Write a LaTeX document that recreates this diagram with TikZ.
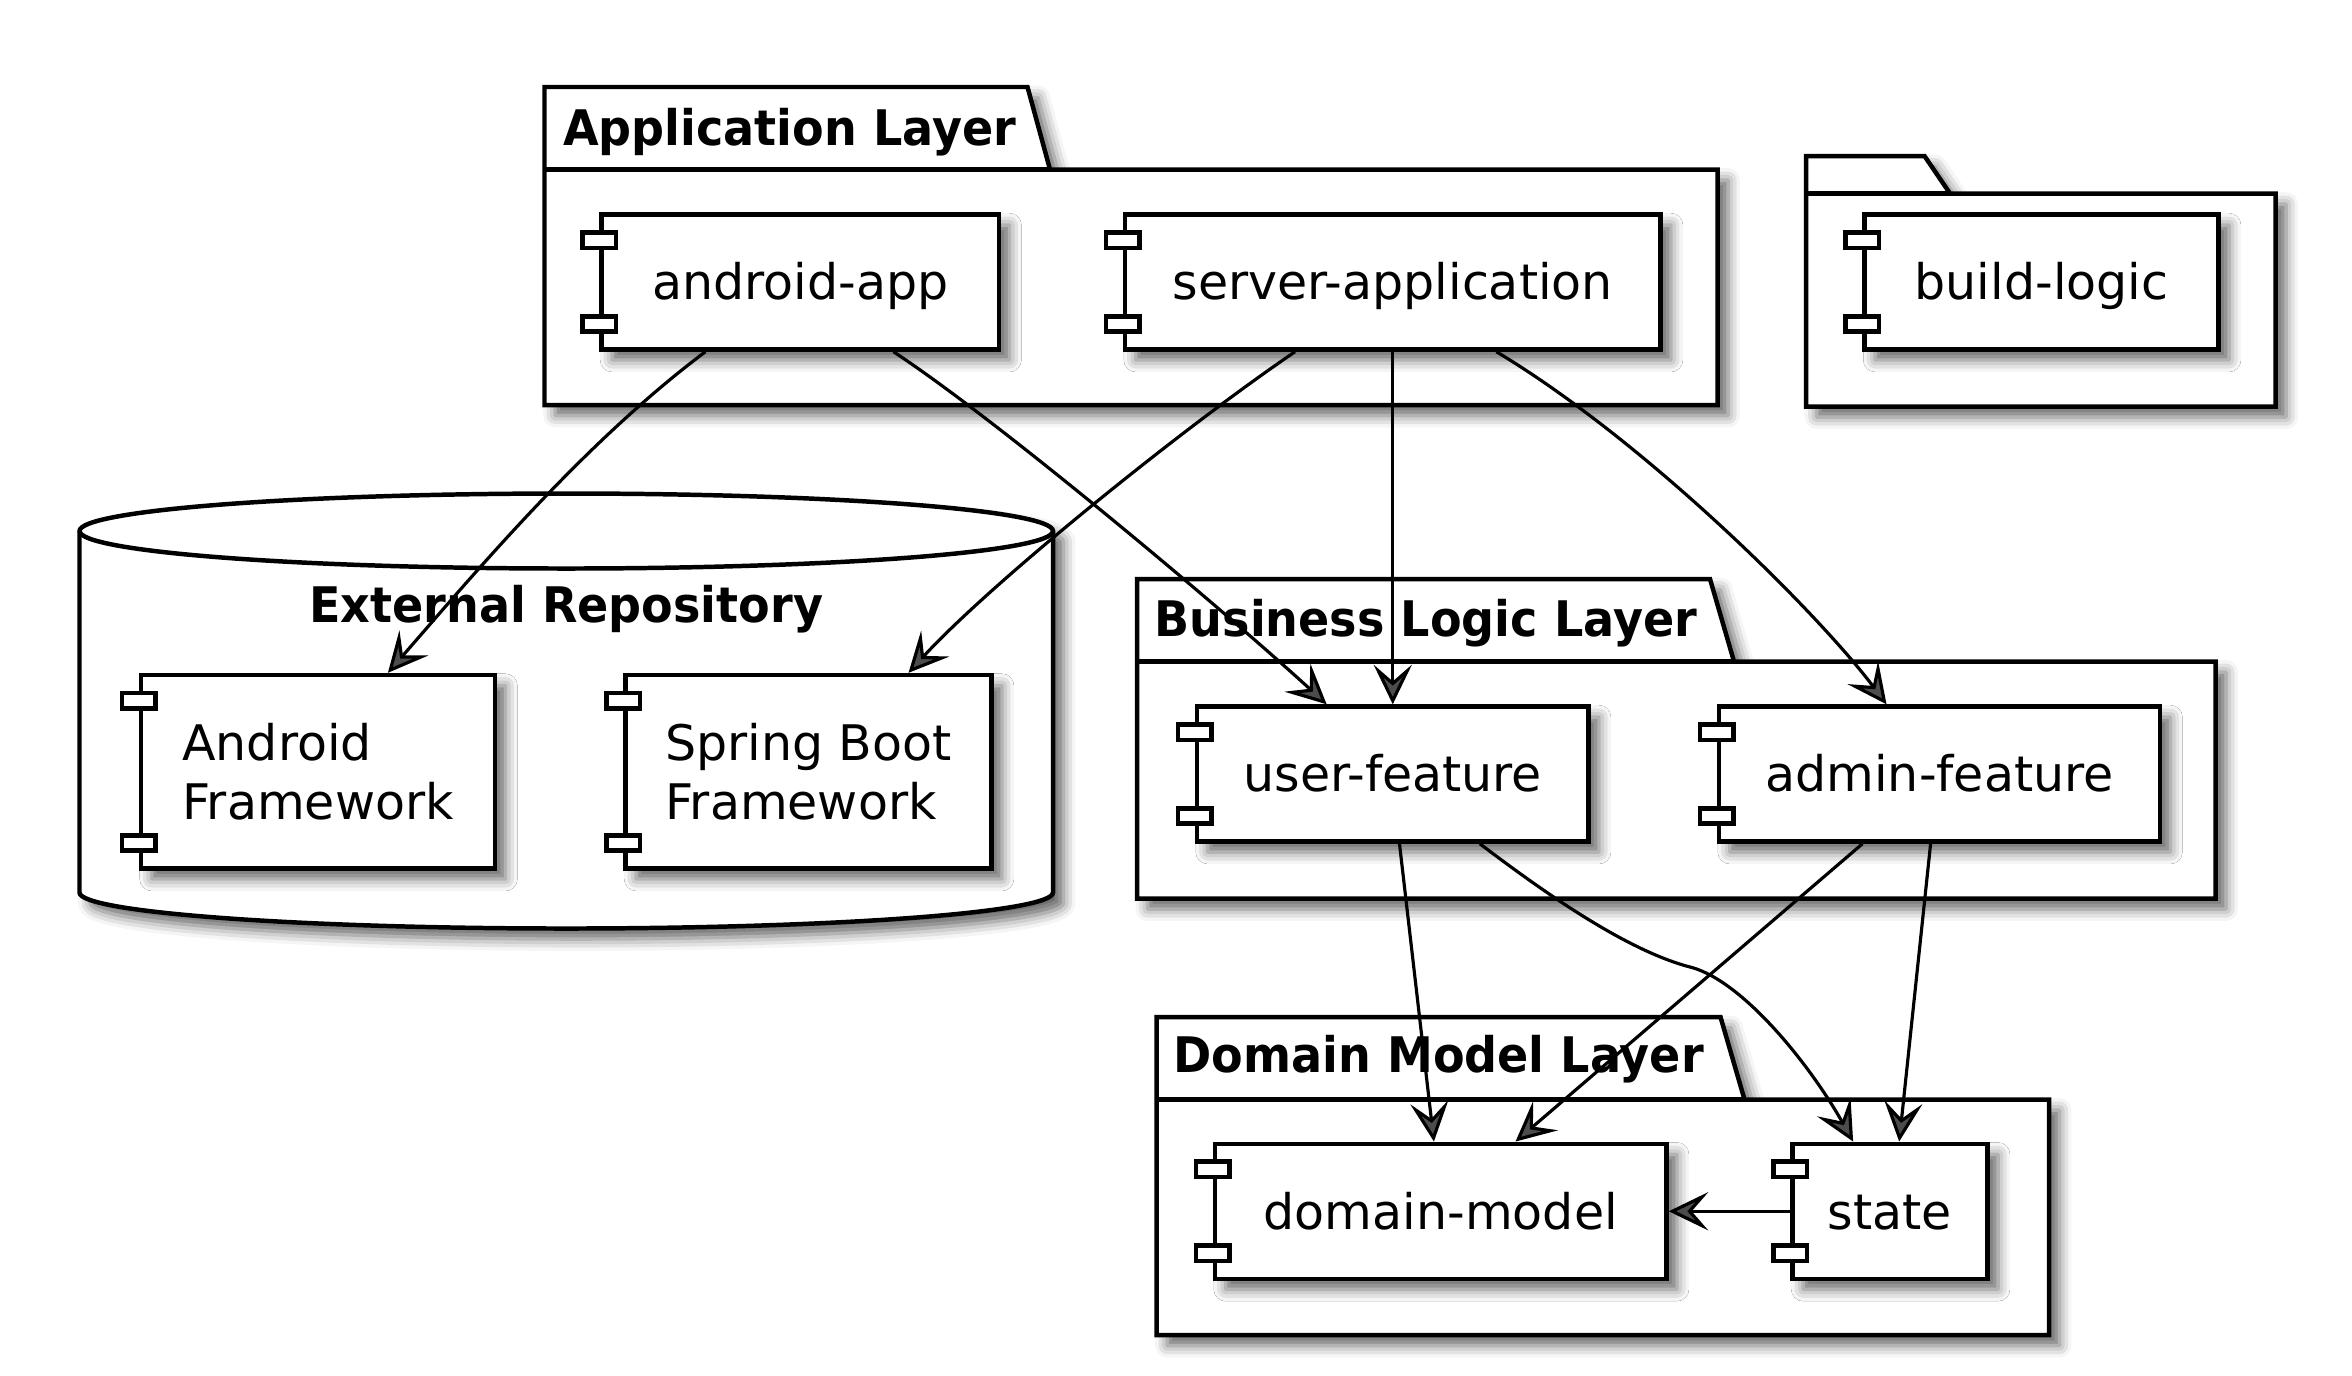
\documentclass[tikz,border=0pt]{standalone}
\usepackage{fontspec}
\setmainfont{DejaVu Sans}
\newfontfamily\titlefont{DejaVu Sans}[FakeStretch=0.94]
\usepackage{tikz}
\usetikzlibrary{arrows.meta, calc, shadows.blur}

% two small port boxes on the left edge of a component
\newcommand{\compports}[1]{%
  \node[compport] (#1-p1) at ($(#1.north west)+(0,18.5)$) {};
  \node[compport] (#1-p2) at ($(#1.south west)+(0,-18.5)$) {};
}

\begin{document}
\begin{tikzpicture}[x=0.02cm, y=-0.02cm,
    font=\fontsize{18.6}{22.7}\selectfont,
    pkgbox/.style={draw, line width=1.7pt, fill=white,
      blur shadow={shadow xshift=4pt, shadow yshift=-4pt, shadow blur radius=4.5pt, shadow opacity=60}},
    comp/.style={pkgbox, rectangle, inner sep=0pt, minimum height=1.8cm},
    oneline/.style={text height=17pt, text depth=3.4pt},
    compport/.style={draw, line width=1.7pt, fill=white, minimum width=0.446cm, minimum height=0.206cm, inner sep=0pt},
    pkgtitle/.style={font=\titlefont\bfseries\fontsize{18.6}{22.7}\selectfont, anchor=base west, inner sep=0pt},
    arr/.style={line width=1.2pt, -{Stealth[length=15pt, width=14.5pt, inset=6.3pt]}}]
    \useasboundingbox (0,0) rectangle (1568,917);

    % Packages
    \draw[pkgbox] (363,58) -- (685,58) -- (700,113) -- (1145,113) -- (1145,270) -- (363,270) -- cycle;
    \draw[line width=1.7pt] (363,113) -- (700,113);
    \node[pkgtitle] (apptitle) at (375,97) {Application Layer};

    \draw[pkgbox] (1204,104) -- (1283,104) -- (1300,129) -- (1517,129) -- (1517,271) -- (1204,271) -- cycle;
    \draw[line width=1.7pt] (1204,129) -- (1300,129);

    \draw[pkgbox] (758,386) -- (1140,386) -- (1156,441) -- (1477,441) -- (1477,599) -- (758,599) -- cycle;
    \draw[line width=1.7pt] (758,441) -- (1156,441);
    \node[pkgtitle] (bltitle) at (769.5,424) {Business Logic Layer};

    \draw[pkgbox] (771,678) -- (1147,678) -- (1163,733) -- (1366,733) -- (1366,890) -- (771,890) -- cycle;
    \draw[line width=1.7pt] (771,733) -- (1163,733);
    \node[pkgtitle] (dmtitle) at (782,715) {Domain Model Layer};

    % External repository (database)
    \draw[pkgbox] (53,354) -- (53,595) .. controls (53,608.25) and (198.3,619) .. (377.5,619)
      .. controls (556.7,619) and (702,608.25) .. (702,595) -- (702,354)
      .. controls (702,340.2) and (556.7,329) .. (377.5,329)
      .. controls (198.3,329) and (53,340.2) .. (53,354) -- cycle;
    \draw[line width=1.7pt] (53,354) .. controls (53,367.8) and (198.3,379) .. (377.5,379)
      .. controls (556.7,379) and (702,367.8) .. (702,354);
    \node[pkgtitle, anchor=base] (repotitle) at (377.5,415) {External Repository};

    % Components
    \node[comp, oneline, minimum width=5.3cm] (androidapp) at (533.5,188) {android-app};
    \node[comp, oneline, minimum width=7.14cm] (serverapp) at (928.5,188) {server-application};
    \node[comp, oneline, minimum width=4.72cm] (buildlogic) at (1361,188) {build-logic};
    \node[comp, align=left, minimum width=4.72cm, minimum height=2.58cm] (androidfw) at (212,514.5) {Android\\Framework};
    \node[comp, align=left, minimum width=4.88cm, minimum height=2.58cm] (springfw) at (539,514.5) {Spring Boot\\Framework};
    \node[comp, oneline, minimum width=5.22cm] (userfeat) at (928.5,516) {user-feature};
    \node[comp, oneline, minimum width=5.88cm] (adminfeat) at (1293,516) {admin-feature};
    \node[comp, oneline, minimum width=6.02cm] (domainmodel) at (960.5,807.5) {domain-model};
    \node[comp, oneline, minimum width=2.6cm] (state) at (1260,807.5) {state};

    \foreach \c in {androidapp, serverapp, buildlogic, androidfw, springfw, userfeat, adminfeat, domainmodel, state}
      {\compports{\c}}

    % Dependencies
    \draw[arr] ($(androidapp.south west)!0.264!(androidapp.south east)$) .. controls +(-80,60) and +(60,-69) .. ($(androidfw.north west)!0.695!(androidfw.north east)$);
    \draw[arr] ($(androidapp.south west)!0.732!(androidapp.south east)$) .. controls +(70,46) and +(-70,-64) .. ($(userfeat.north west)!0.333!(userfeat.north east)$);
    \draw[arr] ($(serverapp.south west)!0.319!(serverapp.south east)$) .. controls +(-75,51) and +(55,-60) .. ($(springfw.north west)!0.77!(springfw.north east)$);
    \draw[arr] (serverapp.south) -- (userfeat.north);
    \draw[arr] ($(serverapp.south west)!0.692!(serverapp.south east)$) .. controls +(100,60) and +(-45,-60) .. ($(adminfeat.north west)!0.381!(adminfeat.north east)$);
    \draw[arr] ($(userfeat.south west)!0.517!(userfeat.south east)$) -- ($(domainmodel.north west)!0.485!(domainmodel.north east)$);
    \draw[arr] ($(userfeat.south west)!0.72!(userfeat.south east)$) .. controls +(50,38) and +(-40,-10) .. (1128,645)
      .. controls +(35,10) and +(-28,-50) .. ($(state.north west)!0.315!(state.north east)$);
    \draw[arr] ($(adminfeat.south west)!0.327!(adminfeat.south east)$) -- ($(domainmodel.north west)!0.664!(domainmodel.north east)$);
    \draw[arr] ($(adminfeat.south west)!0.48!(adminfeat.south east)$) -- ($(state.north west)!0.546!(state.north east)$);
    \draw[arr] (state.west) -- (domainmodel.east);
\end{tikzpicture}
\end{document}
